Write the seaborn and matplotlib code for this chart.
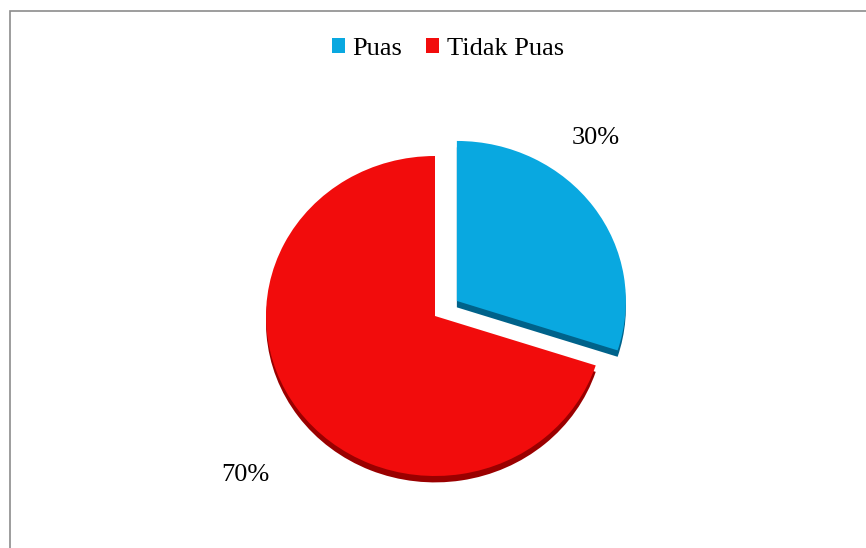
import numpy as np
import matplotlib
matplotlib.use('Agg')
import matplotlib.pyplot as plt
import seaborn as sns
from matplotlib.patches import Rectangle

# data
categories = ["Puas", "Tidak Puas"]
values = [30, 70]
pct_labels = ["30%", "70%"]
colors = ["#09a8e0", "#f20c0c"]
side_colors = ["#00628a", "#9a0000"]

sns.set_theme(style="white")
plt.rcParams['font.family'] = ['Liberation Serif', 'DejaVu Serif']
plt.rcParams['text.color'] = 'black'

fig = plt.figure(figsize=(8.66, 5.48), dpi=100)
ax = fig.add_axes([0, 0, 1, 1])

explode = [0.16, 0]
depth = 0.04  # thickness of the 3d side

# dark side layer, shifted down a bit
ax.pie(values, colors=side_colors, startangle=90, counterclock=False,
       explode=explode, center=(0, -depth), radius=1,
       wedgeprops=dict(linewidth=0))
wedges, _ = ax.pie(values, colors=colors, startangle=90, counterclock=False,
                   explode=explode, radius=1,
                   wedgeprops=dict(linewidth=0))

# percent labels outside the slices (distance, angle shift in deg)
label_pos = [(1.31, 15), (1.50, 5.5)]
for w, lab, (d, shift), ex in zip(wedges, pct_labels, label_pos, explode):
    mid = np.deg2rad((w.theta1 + w.theta2) / 2)
    ang = mid + np.deg2rad(shift)
    cx, cy = ex * np.cos(mid), ex * np.sin(mid)
    ax.text(cx + d * np.cos(ang), cy + d * np.sin(ang),
            lab, ha='center', va='center', fontsize=19, color='black')

# px based scaling: 169 px per unit horizontally, 160 vertically
ax.set_aspect('auto')
ax.set_xlim(-435 / 169, (866 - 435) / 169)
ax.set_ylim(-(548 - 316) / 160, 316 / 160)
ax.axis('off')

leg = fig.legend(wedges, categories, loc='center', bbox_to_anchor=(448 / 866, 1 - 49 / 548),
                 ncol=2, frameon=False, fontsize=19, handlelength=0.5, handleheight=0.5,
                 handletextpad=0.3, columnspacing=0.9)
for t in leg.get_texts():
    t.set_color('black')

# chart area border (cropped on right/bottom)
fig.patches.append(Rectangle((10 / 866, -0.1), 1.2, 1 - 11 / 548 + 0.1,
                             transform=fig.transFigure, fill=False,
                             edgecolor='#8c8c8c', linewidth=1.2))

plt.savefig('out.png', dpi=100)
plt.close()
